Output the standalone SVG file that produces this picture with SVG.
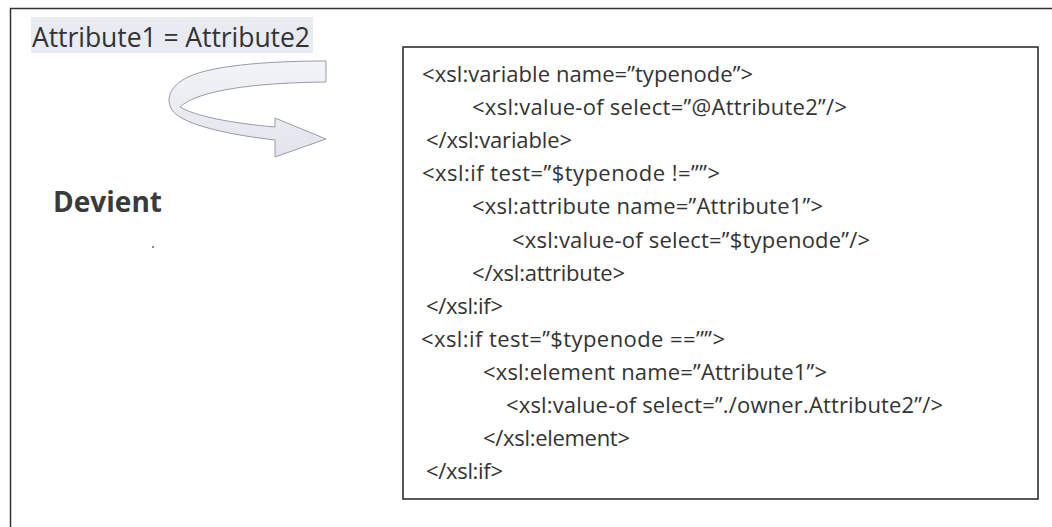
<svg xmlns="http://www.w3.org/2000/svg" width="1052" height="527" viewBox="0 0 1052 527">
  <style>
    .code { font-family: "Open Sans", "Liberation Sans", sans-serif; font-size: 22px; fill: #333333; }
    .title { font-family: "Open Sans", "Liberation Sans", sans-serif; font-size: 26.5px; fill: #333333; }
    .bold { font-family: "Open Sans", "Liberation Sans", sans-serif; font-size: 28px; font-weight: 700; fill: #3a3a3a; }
  </style>
  <defs>
    <linearGradient id="arrowFill" x1="0" y1="0" x2="0" y2="1">
      <stop offset="0" stop-color="#f3f4f8"/>
      <stop offset="1" stop-color="#e2e4ec"/>
    </linearGradient>
  </defs>
  <rect x="0" y="0" width="1052" height="527" fill="#ffffff"/>

  <g id="frame">
    <path d="M10.5,527 L10.5,8.5 L1052,8.5" fill="none" stroke="#333333" stroke-width="1.5"/>
  </g>

  <g id="source">
    <rect x="31" y="17" width="282" height="36" fill="#e9ebf3"/>
    <text class="title" x="32" y="47" textLength="278">Attribute1 = Attribute2</text>
  </g>

  <g id="connectors">
    <path d="M326,61 C280,61 215,64 188,77 C168,87 166,100 172,110 C180,122 215,133 275,140 L275,157 L326,139 L275,118 L275,127 C230,123 195,116 180,107 C195,93 240,83 326,82 Z" fill="url(#arrowFill)" stroke="#9a9aa8" stroke-width="1"/>
  </g>

  <g id="devient">
    <text class="bold" x="53" y="212" textLength="109">Devient</text>
    <circle cx="153" cy="247" r="0.9" fill="#555555"/>
  </g>

  <g id="code-box">
    <rect x="403" y="47" width="635" height="452" fill="#ffffff" stroke="#222222" stroke-width="1.5"/>
    <text class="code" x="422" y="82" textLength="331">&lt;xsl:variable name=”typenode”&gt;</text>
    <text class="code" x="472" y="115.1" textLength="375">&lt;xsl:value-of select=”@Attribute2”/&gt;</text>
    <text class="code" x="426" y="148.2" textLength="146">&lt;/xsl:variable&gt;</text>
    <text class="code" x="422" y="181.3" textLength="298">&lt;xsl:if test=”$typenode !=’’”&gt;</text>
    <text class="code" x="472" y="214.4" textLength="351">&lt;xsl:attribute name=”Attribute1”&gt;</text>
    <text class="code" x="512" y="247.5" textLength="358">&lt;xsl:value-of select=”$typenode”/&gt;</text>
    <text class="code" x="472" y="280.6" textLength="153">&lt;/xsl:attribute&gt;</text>
    <text class="code" x="426" y="313.7" textLength="77">&lt;/xsl:if&gt;</text>
    <text class="code" x="421" y="346.8" textLength="304">&lt;xsl:if test=”$typenode ==’’”&gt;</text>
    <text class="code" x="483" y="379.9" textLength="344">&lt;xsl:element name=”Attribute1”&gt;</text>
    <text class="code" x="506" y="413" textLength="437">&lt;xsl:value-of select=”./owner.Attribute2”/&gt;</text>
    <text class="code" x="483" y="446.1" textLength="147">&lt;/xsl:element&gt;</text>
    <text class="code" x="426" y="479.2" textLength="77">&lt;/xsl:if&gt;</text>
  </g>
</svg>
